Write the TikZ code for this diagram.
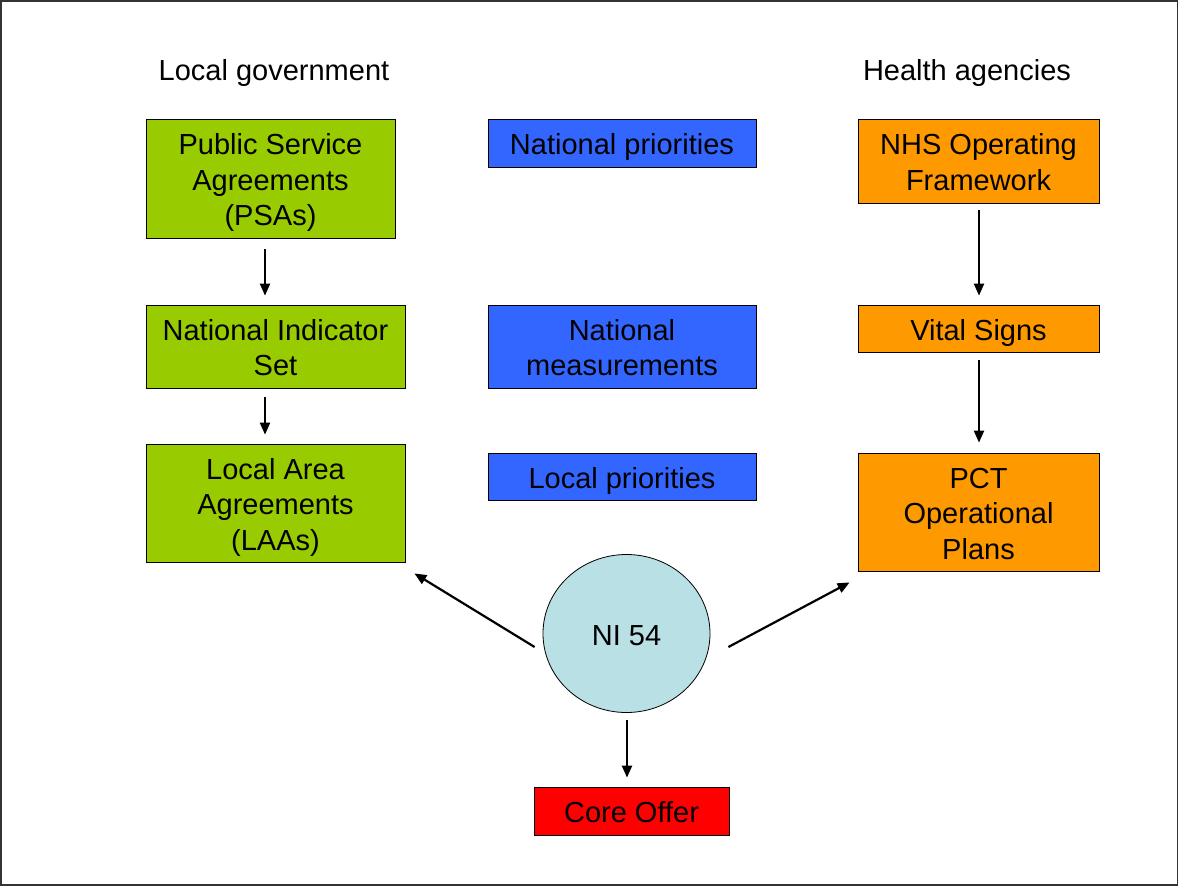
\documentclass[tikz,border=0pt]{standalone}
\usepackage{fontspec}
\setmainfont{Liberation Sans}
\usetikzlibrary{arrows.meta,shapes.geometric}
\definecolor{cgreen}{HTML}{99CC00}
\definecolor{cblue}{HTML}{3366FF}
\definecolor{corange}{HTML}{FF9900}
\definecolor{cred}{HTML}{FF0000}
\definecolor{ccirc}{HTML}{B9E0E4}
\tikzset{
  box/.style={draw=black, line width=0.8pt, inner sep=0pt, align=center,
    font=\fontsize{29}{35.5}\selectfont, text height=23.4pt, text depth=0pt},
  twolines/.style={text height=58.9pt},
  threelines/.style={text height=94.4pt},
  gbox/.style={box, fill=cgreen},
  bbox/.style={box, fill=cblue},
  obox/.style={box, fill=corange},
  rbox/.style={box, fill=cred},
  head/.style={font=\fontsize{29}{35}\selectfont, text height=23.4pt, text depth=0pt},
  arr/.style={line width=2.2pt, -{Triangle[length=12pt,width=10pt]}}
}
\begin{document}
\begin{tikzpicture}[x=1pt,y=-1pt]
\useasboundingbox (0,0) rectangle (1179,887);
\draw[line width=1.2pt, draw=black!80] (1,1) rectangle (1177.5,885);

\node[head] (lg) at (274,69) {Local government};
\node[head] (ha) at (967,69) {Health agencies};

\node[gbox, threelines, minimum width=249pt, minimum height=119pt] (psa) at (270.5,178.5) {Public Service\\Agreements\\(PSAs)};
\node[gbox, twolines, minimum width=259pt, minimum height=83pt] (nis) at (275.5,346.5) {National Indicator\\Set};
\node[gbox, threelines, minimum width=259pt, minimum height=118pt] (laa) at (275.5,503) {Local Area\\Agreements\\(LAAs)};

\node[bbox, minimum width=268pt, minimum height=48pt] (np) at (622,143) {National priorities};
\node[bbox, twolines, minimum width=268pt, minimum height=83pt] (nm) at (622,346.5) {National\\measurements};
\node[bbox, minimum width=268pt, minimum height=47pt] (lp) at (622,476.5) {Local priorities};

\node[obox, twolines, minimum width=241pt, minimum height=84pt] (nhs) at (978.5,161) {NHS Operating\\Framework};
\node[obox, minimum width=241pt, minimum height=47pt] (vs) at (978.5,328.5) {Vital Signs};
\node[obox, threelines, minimum width=241pt, minimum height=118pt] (pct) at (978.5,512) {PCT\\Operational\\Plans};

\node[box, ellipse, fill=ccirc, minimum width=167pt, minimum height=158pt] (ni) at (626.5,633.5) {NI 54};
\node[rbox, minimum width=195pt, minimum height=48pt] (core) at (631.5,811) {Core Offer};

\draw[arr] ([xshift=-5.5pt,yshift=-11pt]psa.south) -- ([xshift=-10.5pt,yshift=9pt]nis.north);
\draw[arr] ([xshift=-10.5pt,yshift=-9pt]nis.south) -- ([xshift=-10.5pt,yshift=9pt]laa.north);
\draw[arr] ([xshift=0.5pt,yshift=-7pt]nhs.south) -- ([xshift=0.5pt,yshift=9pt]vs.north);
\draw[arr] ([xshift=0.5pt,yshift=-8pt]vs.south) -- ([xshift=0.5pt,yshift=10pt]pct.north);
\draw[arr] ([xshift=-8pt,yshift=-13.5pt]ni.west) -- ([xshift=9pt,yshift=-11pt]laa.south east);
\draw[arr] ([xshift=18pt,yshift=-13.5pt]ni.east) -- ([xshift=-8pt,yshift=-11pt]pct.south west);
\draw[arr] ([xshift=0.5pt,yshift=-7.5pt]ni.south) -- ([xshift=-4.5pt,yshift=9pt]core.north);
\end{tikzpicture}
\end{document}
